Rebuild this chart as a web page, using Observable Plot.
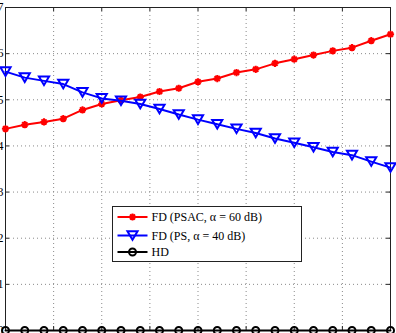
<!DOCTYPE html>
<html>
<head>
<meta charset="utf-8">
<script src="https://cdn.jsdelivr.net/npm/d3@7"></script>
<script src="https://cdn.jsdelivr.net/npm/@observablehq/plot@0.6"></script>
<style>
  html, body { margin: 0; padding: 0; background: #fff; }
  #chart { position: relative; width: 396px; height: 333px; overflow: hidden; }
</style>
</head>
<body>
<div id="chart"></div>
<script>
// Transmit power sweep (dB) and rates for each scheme
const xValues = d3.range(0, 41, 2);
const fdPsac = [4.37, 4.46, 4.52, 4.59, 4.78, 4.91, 4.99, 5.06, 5.18, 5.25, 5.39,
                5.46, 5.59, 5.66, 5.79, 5.88, 5.97, 6.06, 6.13, 6.28, 6.42];
const fdPs   = [5.61, 5.48, 5.41, 5.34, 5.16, 5.03, 4.98, 4.91, 4.80, 4.68, 4.57,
                4.47, 4.37, 4.28, 4.16, 4.07, 3.97, 3.87, 3.80, 3.66, 3.53];
const hd     = xValues.map(() => 0);

const seriesNames = ["FD (PSAC, \u03b1 = 60 dB)", "FD (PS, \u03b1 = 40 dB)", "HD"];
const seriesColors = ["#ff0000", "#0000ff", "#000000"];

const xTicks = [0, 5, 10, 15, 20, 25, 30, 35, 40];
const yTicks = [0, 1, 2, 3, 4, 5, 6, 7];
const xDomain = [0, 40];
const yDomain = [0, 7];

// MATLAB-style marker shapes
const asterisk = {
  draw(ctx, size) {
    const r = Math.sqrt(size / Math.PI);
    const d = r * Math.SQRT1_2;
    ctx.moveTo(-r, 0); ctx.lineTo(r, 0);
    ctx.moveTo(0, -r); ctx.lineTo(0, r);
    ctx.moveTo(-d, -d); ctx.lineTo(d, d);
    ctx.moveTo(-d, d); ctx.lineTo(d, -d);
  }
};
const triangleDown = {
  draw(ctx, size) {
    const r = Math.sqrt(size / Math.PI);
    const w = r * 1.3, h = r * 1.1;
    ctx.moveTo(-w, -h);
    ctx.lineTo(w, -h);
    ctx.lineTo(0, h);
    ctx.closePath();
  }
};
const markerSymbols = [asterisk, triangleDown, "circle"];
const markerRadius = [3.6, 3.9, 3.5];

const rows = (vals, i) => vals.map((v, k) => ({x: xValues[k], y: v, s: i}));
const series = [fdPsac, fdPs, hd].map(rows);

const tickLenX = 4 * (xDomain[1] - xDomain[0]) / 385;
const tickLenY = 4 * (yDomain[1] - yDomain[0]) / 323;
const innerX = xTicks.filter(t => t > xDomain[0] && t < xDomain[1]);
const innerY = yTicks.filter(t => t > yDomain[0] && t < yDomain[1]);

const serif = "'Liberation Serif', 'Times New Roman', serif";

const marks = [
  Plot.gridX(innerX, {stroke: "#8a8a8a", strokeOpacity: 1, strokeDasharray: "1,3", strokeWidth: 1}),
  Plot.gridY(innerY, {stroke: "#8a8a8a", strokeOpacity: 1, strokeDasharray: "1,3", strokeWidth: 1}),
  // inward ticks on all four sides
  Plot.ruleY(innerY, {y: d => d, x1: () => xDomain[0], x2: () => xDomain[0] + tickLenX, stroke: "#222"}),
  Plot.ruleY(innerY, {y: d => d, x1: () => xDomain[1] - tickLenX, x2: () => xDomain[1], stroke: "#222"}),
  Plot.ruleX(innerX, {x: d => d, y1: () => yDomain[1], y2: () => yDomain[1] - tickLenY, stroke: "#222"}),
  Plot.ruleX(innerX, {x: d => d, y1: () => yDomain[0], y2: () => yDomain[0] + tickLenY, stroke: "#222"}),
  Plot.axisY(yTicks, {tickSize: 0, tickPadding: 2, fontSize: 12, fontFamily: serif, fill: "#000", label: null}),
  Plot.frame({stroke: "#222", strokeWidth: 1})
];
series.forEach((data, i) => {
  marks.push(Plot.line(data, {x: "x", y: "y", stroke: seriesColors[i], strokeWidth: 2}));
  marks.push(Plot.dot(data, {x: "x", y: "y", stroke: seriesColors[i], strokeWidth: 2, fill: "none",
                             r: markerRadius[i], symbol: () => markerSymbols[i]}));
});

const chart = Plot.plot({
  width: 396,
  height: 333,
  marginLeft: 5,
  marginRight: 6,
  marginTop: 7,
  marginBottom: 3,
  x: {domain: xDomain, axis: null},
  y: {domain: yDomain, axis: null},
  style: {background: "#fff", overflow: "visible"},
  marks
});
document.getElementById("chart").appendChild(chart);

// Legend box inside the axes
const svg = d3.select(chart);
const lg = svg.append("g").attr("transform", "translate(112.5,206.5)")
  .attr("text-anchor", "start");
lg.append("rect").attr("width", 189).attr("height", 55)
  .attr("fill", "#fff").attr("stroke", "#222").attr("stroke-width", 1);
const rowY = [10.5, 29, 45.5];
seriesNames.forEach((name, i) => {
  const g = lg.append("g").attr("transform", `translate(0,${rowY[i]})`);
  g.append("line").attr("x1", 5).attr("x2", 35).attr("y1", 0).attr("y2", 0)
    .attr("stroke", seriesColors[i]).attr("stroke-width", 2);
  const sym = typeof markerSymbols[i] === "string" ? d3.symbolCircle : markerSymbols[i];
  g.append("path").attr("transform", "translate(20,0)")
    .attr("d", d3.symbol(sym, Math.PI * markerRadius[i] ** 2)())
    .attr("fill", "none").attr("stroke", seriesColors[i]).attr("stroke-width", 2);
  g.append("text").attr("x", 39).attr("y", 0).attr("dy", "0.34em")
    .attr("text-anchor", "start")
    .attr("font-family", serif).attr("font-size", 12).attr("fill", "#000")
    .text(name);
});
</script>
</body>
</html>
